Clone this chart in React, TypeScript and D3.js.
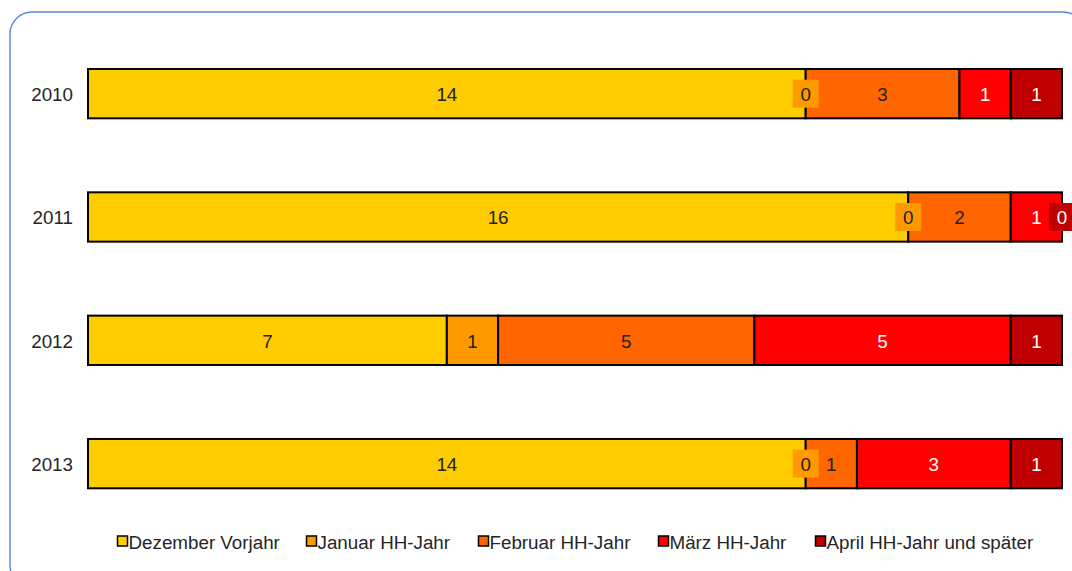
import React from "react";
import * as d3 from "d3";

// Haushaltsjahre (rows) and the month categories stacked in each bar
const years = ["2010", "2011", "2012", "2013"];
const seriesNames = [
  "Dezember Vorjahr",
  "Januar HH-Jahr",
  "Februar HH-Jahr",
  "März HH-Jahr",
  "April HH-Jahr und später",
];
const seriesColors = ["#FFCC00", "#FF9900", "#FF6600", "#FF0000", "#C00000"];
const labelColors = ["#222222", "#222222", "#222222", "#FFFFFF", "#FFFFFF"];

// counts per year, one array per month category
const dezember = [14, 16, 7, 14];
const januar = [0, 0, 1, 0];
const februar = [3, 2, 5, 1];
const maerz = [1, 1, 5, 3];
const april = [1, 0, 1, 1];

const seriesValues = [dezember, januar, februar, maerz, april];
const xMax = 19;

const W = 1072;
const H = 571;
const FONT = "'Liberation Sans', Arial, sans-serif";
const FS = 18.8;

export default function App() {
  const x = d3.scaleLinear().domain([0, xMax]).range([88, 1062]);
  const y = d3
    .scaleBand<string>()
    .domain(years)
    .range([32, 525.3])
    .paddingInner(0.6)
    .paddingOuter(0.3);

  const rows = years.map((yr, i) => {
    const obj: Record<string, number | string> = { year: yr };
    seriesNames.forEach((s, j) => (obj[s] = seriesValues[j][i]));
    return obj;
  });
  const stacked = d3.stack<Record<string, number | string>>().keys(seriesNames)(rows as any);

  const legendX = [117, 306, 478, 658, 815];
  const legendY = 541;

  return (
    <svg
      width={W}
      height={H}
      style={{ position: "absolute", left: 0, top: 0, background: "#fff" }}
      fontFamily={FONT}
    >
      <rect x={10} y={12} width={1075} height={575} rx={22} ry={22} fill="#fff" stroke="#5a84d2" strokeWidth={1.4} />

      {years.map((yr) => (
        <text
          key={yr}
          x={73}
          y={(y(yr) ?? 0) + y.bandwidth() / 2 + 1}
          textAnchor="end"
          dominantBaseline="central"
          fontSize={FS}
          fill="#262626"
        >
          {yr}
        </text>
      ))}

      {stacked.map((layer, si) => (
        <g key={layer.key}>
          {layer.map((d, i) => {
            const yr = years[i];
            const x0 = x(d[0]);
            const x1 = x(d[1]);
            return (
              <rect
                key={yr}
                x={x0}
                y={y(yr)}
                width={x1 - x0}
                height={y.bandwidth()}
                fill={seriesColors[si]}
                stroke="#000"
                strokeWidth={2}
              />
            );
          })}
        </g>
      ))}

      {stacked.map((layer, si) => (
        <g key={"lbl" + layer.key}>
          {layer.map((d, i) => {
            const yr = years[i];
            const v = seriesValues[si][i];
            const cx = (x(d[0]) + x(d[1])) / 2;
            const cy = (y(yr) ?? 0) + y.bandwidth() / 2;
            return (
              <g key={yr}>
                {v === 0 && (
                  <rect x={cx - 13} y={cy - 14} width={26} height={28} fill={seriesColors[si]} />
                )}
                <text
                  x={cx}
                  y={cy + 1}
                  textAnchor="middle"
                  dominantBaseline="central"
                  fontSize={FS}
                  fill={labelColors[si]}
                >
                  {v}
                </text>
              </g>
            );
          })}
        </g>
      ))}

      {seriesNames.map((s, i) => (
        <g key={s} transform={`translate(${legendX[i]},${legendY})`}>
          <rect x={0.5} y={-5} width={10} height={10} fill={seriesColors[i]} stroke="#000" strokeWidth={1.5} />
          <text x={11.5} y={1} dominantBaseline="central" fontSize={FS} fill="#262626">
            {s}
          </text>
        </g>
      ))}
    </svg>
  );
}
